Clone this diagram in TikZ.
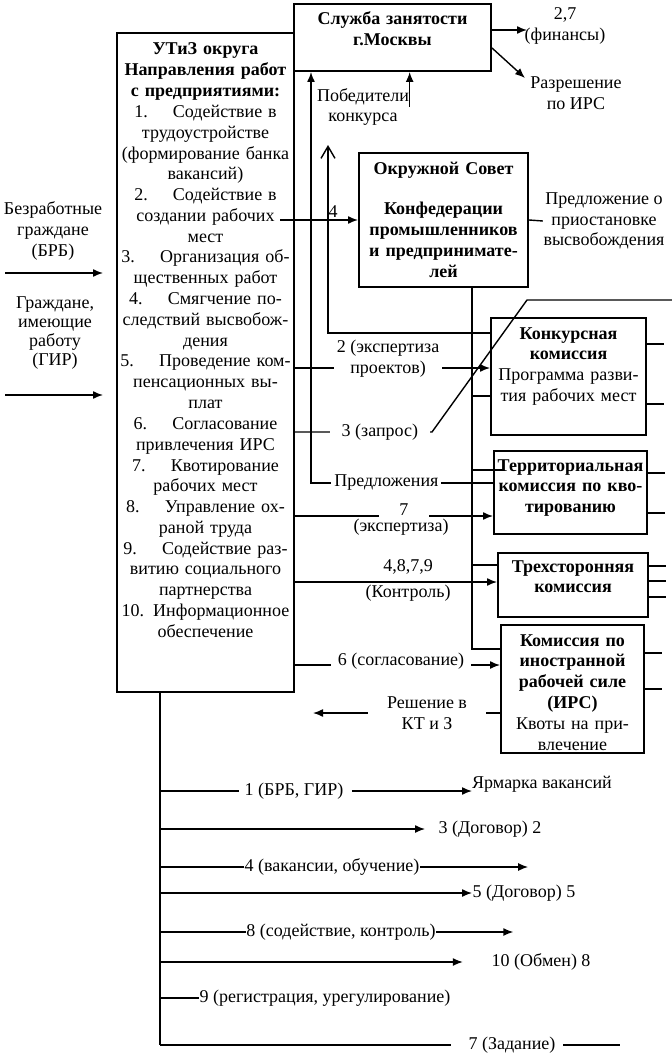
\documentclass[tikz,border=0pt]{standalone}
\usepackage{fontspec}
\setmainfont{Liberation Serif}
\usepackage{tikz}
\usetikzlibrary{arrows.meta,positioning,calc}
\newcommand{\diafont}{\fontsize{9}{10.4}\selectfont}
\tikzstyle{box}=[draw,line width=1pt,inner sep=0pt,align=center,anchor=north west]
\tikzstyle{boldbox}=[box,font=\diafont\bfseries]
\tikzstyle{txt}=[inner sep=0pt,align=center]
\tikzstyle{lbl}=[fill=white,inner sep=1.5pt,align=center]
\tikzstyle{tag}=[inner sep=0pt,anchor=mid]

\begin{document}
\begin{tikzpicture}[x=0.5pt,y=-0.5pt,line width=0.7pt,font=\diafont,
  arr/.style={-{Latex[length=5pt,width=4pt]}},
  openarr/.style={-{Straight Barb[length=6pt,width=7pt]}}]
\useasboundingbox (0,0) rectangle (672,1054);

% boxes
\node [boldbox,text width=98.5pt,text height=10.5pt,text depth=23pt] (sluzhba) at (293,3)
  {Служба занятости\\г.Москвы};
\node [box,text width=88.5pt,text height=11pt,text depth=318.5pt] (utiz) at (116,32)
  {\textbf{УТиЗ округа}\\
   \textbf{Направления работ}\\
   \textbf{с предприятиями:}\\
   1.\hspace{1.4em}Содействие в\\
   трудоустройстве\\
   (формирование банка\\
   вакансий)\\
   2.\hspace{1.4em}Содействие в\\
   создании рабочих\\
   мест\\
   3.\hspace{1.4em}Организация об-\\
   щественных работ\\
   4.\hspace{1.4em}Смягчение по-\\
   следствий высвобож-\\
   дения\\
   5.\hspace{1.4em}Проведение ком-\\
   пенсационных вы-\\
   плат\\
   6.\hspace{1.4em}Согласование\\
   привлечения ИРС\\
   7.\hspace{1.4em}Квотирование\\
   рабочих мест\\
   8.\hspace{1.4em}Управление ох-\\
   раной труда\\
   9.\hspace{1.4em}Содействие раз-\\
   витию социального\\
   партнерства\\
   10.\hspace{0.5em}Информационное\\
   обеспечение};
\node [boldbox,text width=84.5pt,text height=10.5pt,text depth=56.5pt] (okr) at (358,152)
  {Окружной Совет\\[10pt]Конфедерации\\промышленников\\и предпринимате-\\лей};
\node [box,text width=77.5pt,text height=10.5pt,text depth=48pt] (konk) at (490,317)
  {\textbf{Конкурсная}\\\textbf{комиссия}\\Программа разви-\\тия рабочих мест};
\node [boldbox,text width=76.5pt,text height=10pt,text depth=31.5pt] (terr) at (493,450)
  {Территориальная\\комиссия по кво-\\тированию};
\node [boldbox,text width=75pt,text height=9.5pt,text depth=22.5pt] (treh) at (497,552)
  {Трехсторонняя\\комиссия};
\node [box,text width=71.5pt,text height=10.5pt,text depth=53.5pt] (irs) at (500,624)
  {\textbf{Комиссия по}\\\textbf{иностранной}\\\textbf{рабочей силе}\\\textbf{(ИРС)}\\Квоты на при-\\влечение};

% inputs on the left
\node [txt] (brb) at (53,231) {Безработные\\граждане\\(БРБ)};
\node [txt,font=\fontsize{9}{9.6}\selectfont] (gir) at (55,333) {Граждане,\\имеющие\\работу\\(ГИР)};
\coordinate (brbin) at (5,273);
\coordinate (girin) at (5,395);
\draw[arr] (brbin) -- ++(98,0);
\draw[arr] (girin) -- ++(98,0);

% outputs of the Sluzhba
\coordinate (rfin) at (0,30);
\draw[arr] (sluzhba.east |- rfin) -- ++(35,0);
\node [txt] (fin) at (565,26) {2,7\\(финансы)};
\draw[arr] ([yshift=-5.25pt]sluzhba.east) -- ++(33,30);
\node [txt] (razr) at (576,93) {Разрешение\\по ИРС};
\node [txt] (pobed) at (363,107) {Победители\\конкурса};
\draw[arr] (pobed.east) -- (pobed.east |- sluzhba.south);

% Okrug
\node [txt] (predlo) at (604,221) {Предложение о\\приостановке\\высвобождения};
\draw (okr.east) -- (predlo.west);
\draw[arr] ([xshift=-7.5pt]utiz.east |- okr.west) -- node[above,pos=0.68,inner sep=1pt] {4} (okr.west);

% rows between utiz and the commissions
\coordinate (rkonk) at (0,333);
\coordinate (pobtop) at (328,145);
\draw[openarr] (konk.west |- rkonk) -| (pobtop);
\coordinate (rpred) at (0,483);
\draw[arr] (terr.west |- rpred) -| node[lbl,pos=0.293] {Предложения} ([xshift=9pt]sluzhba.south west);
\coordinate (rexp) at (0,368);
\draw[arr] (utiz.east |- rexp) -- node[lbl,pos=0.477,yshift=4.5pt] {2 (экспертиза\\проектов)} (konk.west |- rexp);
\coordinate (rzap) at (0,432);
\coordinate (zapbend) at (527,300);
\coordinate (zapend) at (672,300);
\draw (utiz.east |- rzap) -- node[lbl,pos=0.62,minimum width=50pt] {3 (запрос)} ++(137,0) -- (zapbend) -- (zapend);
\coordinate (r7) at (0,516);
\draw[arr] (utiz.east |- r7) -- node[lbl,pos=0.55,yshift=3pt,minimum width=25pt] {7} (terr.west |- r7);
\node [txt] (exp7) at (401,527) {(экспертиза)};
\coordinate (rkontr) at (0,582);
\draw[arr] (utiz.east |- rkontr) -- node[pos=0.56,yshift=7.5pt] {4,8,7,9} node[pos=0.56,yshift=-5.5pt] {(Контроль)} (treh.west |- rkontr);
\coordinate (r6) at (0,665);
\draw[arr] (utiz.east |- r6) -- node[lbl,pos=0.517,yshift=2pt,inner xsep=3.5pt] {6 (согласование)} (irs.west |- r6);
\coordinate (rresh) at (0,713);
\draw[arr] (irs.west |- rresh) -- node[lbl,pos=0.39,minimum width=59pt] {Решение в\\КТ и З} ++(-187,0);

% bus from the Okrug
\coordinate (bus) at (472,649);
\draw (okr.south -| bus) -- (bus) -- (irs.west |- bus);
\draw ([yshift=-9.75pt]konk.west) -- ++(-18,0);
\draw ([xshift=5pt,yshift=11.25pt]terr.west) -- ++(-31,0);
\draw ([yshift=10pt]treh.west) -- ++(-25,0);

% stubs on the right
\foreach \b/\s in {konk/16.25,konk/-13.75,terr/9.75,terr/-10.25,treh/9.5,treh/2,treh/-6,irs/18,irs/0}
  \draw ([yshift=\s pt]\b.east) -- ++(17,0);

% lower part
\coordinate (trunk) at (160,1045);
\draw (utiz.south -| trunk) -- (trunk);
\node [tag] (b1) at (294,791) {1 (БРБ, ГИР)};
\draw (trunk |- b1.mid) -- ([xshift=-2.5pt]b1.mid west);
\draw[arr] ([xshift=4pt]b1.mid east) -- ++(120,0);
\node [txt] (yarm) at (542,784) {Ярмарка вакансий};
\node [tag] (d2) at (490,829) {3 (Договор) 2};
\draw[arr] (trunk |- d2.mid) -- ([xshift=-6.5pt]d2.mid west);
\node [tag] (b3) at (332,867) {4 (вакансии, обучение)};
\draw (trunk |- b3.mid) -- (b3.mid west);
\draw[arr] (b3.mid east) -- ++(108,0);
\node [tag] (d4) at (524,893) {5 (Договор) 5};
\draw[arr] (trunk |- d4.mid) -- (d4.mid west);
\node [tag] (b5) at (341,932) {8 (содействие, контроль)};
\draw (trunk |- b5.mid) -- (b5.mid west);
\draw[arr] (b5.mid east) -- ++(77,0);
\node [tag] (d6) at (541,962) {10 (Обмен) 8};
\draw[arr] (trunk |- d6.mid) -- ([xshift=-14pt]d6.mid west);
\node [tag] (b7) at (325,998) {9 (регистрация, урегулирование)};
\draw (trunk |- b7.mid) -- (b7.mid west);
\node [tag] (b8) at (512,1045) {7 (Задание)};
\draw (trunk) -- ([xshift=-8.5pt]b8.mid west);
\draw ([xshift=3.5pt]b8.mid east) -- ++(57,0);
\end{tikzpicture}
\end{document}
